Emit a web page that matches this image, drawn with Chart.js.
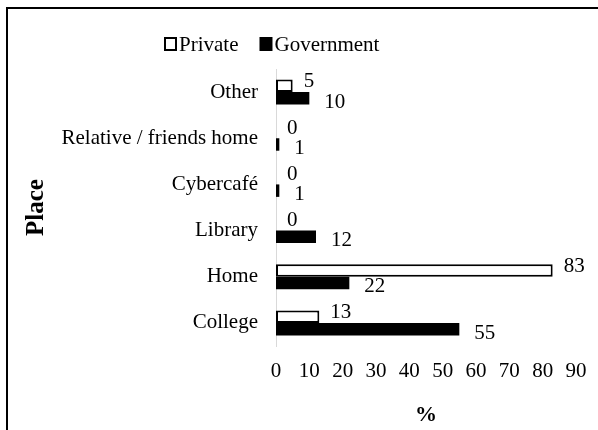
<!DOCTYPE html>
<html>
<head>
<meta charset="utf-8">
<script src="https://cdn.jsdelivr.net/npm/chart.js@4.4.1/dist/chart.umd.min.js"></script>
<style>
  html, body { margin: 0; padding: 0; background: #fff; }
  #wrap { width: 598px; height: 430px; position: relative; }
</style>
</head>
<body>
<div id="wrap"><canvas id="c" width="598" height="430"></canvas></div>
<script>
// Places where students use the Internet, % by type of institution
const places = ["Other", "Relative / friends home", "Cybercafé", "Library", "Home", "College"];
const privateValues = [5, 0, 0, 0, 83, 13];
const governmentValues = [10, 1, 1, 12, 22, 55];
const seriesNames = ["Private", "Government"];
const xTicks = [0, 10, 20, 30, 40, 50, 60, 70, 80, 90];

const FONT = "'Liberation Serif', 'Times New Roman', serif";

// Outer frame: only the top and left edges fall inside the canvas
const framePlugin = {
  id: 'frame',
  beforeDraw(chart) {
    const ctx = chart.ctx;
    ctx.save();
    ctx.strokeStyle = '#000';
    ctx.lineWidth = 2;
    ctx.beginPath();
    ctx.moveTo(7, 440);
    ctx.lineTo(7, 8);
    ctx.lineTo(610, 8);
    ctx.stroke();
    ctx.restore();
  }
};

// Legend row: hollow square for Private, filled square for Government
const legendPlugin = {
  id: 'boxLegend',
  afterDraw(chart) {
    const ctx = chart.ctx;
    ctx.save();
    ctx.font = '21px ' + FONT;
    ctx.textBaseline = 'middle';
    ctx.fillStyle = '#000';
    const y = 44;
    let x = 164;
    chart.data.datasets.forEach((ds, i) => {
      if (i === 0) {
        ctx.lineWidth = 2;
        ctx.strokeStyle = '#000';
        ctx.strokeRect(x + 1, y - 6, 11, 12);
      } else {
        ctx.fillRect(x, y - 7, 13, 14);
      }
      x += 15;
      ctx.fillText(ds.label, x, y + 1);
      x += ctx.measureText(ds.label).width + 21;
    });
    ctx.restore();
  }
};

// Value labels just past the end of each bar
const valueLabelPlugin = {
  id: 'valueLabels',
  afterDatasetsDraw(chart) {
    const ctx = chart.ctx;
    ctx.save();
    ctx.font = '21px ' + FONT;
    ctx.fillStyle = '#000';
    ctx.textAlign = 'left';
    ctx.textBaseline = 'middle';
    chart.data.datasets.forEach((ds, di) => {
      const meta = chart.getDatasetMeta(di);
      meta.data.forEach((bar, i) => {
        const dx = di === 0 ? 11 : 15;
        const dy = di === 0 ? -4 : 4;
        ctx.fillText(String(ds.data[i]), bar.x + dx, bar.y + dy);
      });
    });
    ctx.restore();
  }
};

new Chart(document.getElementById('c'), {
  type: 'bar',
  data: {
    labels: places,
    datasets: [
      {
        label: seriesNames[0],
        data: privateValues,
        backgroundColor: '#ffffff',
        borderColor: '#000000',
        borderWidth: 2,
        borderSkipped: false
      },
      {
        label: seriesNames[1],
        data: governmentValues,
        backgroundColor: '#000000',
        borderColor: '#000000',
        borderWidth: 0
      }
    ]
  },
  options: {
    indexAxis: 'y',
    responsive: false,
    animation: false,
    categoryPercentage: 0.54,
    barPercentage: 1.0,
    layout: { padding: { left: 21, right: 22, top: 69, bottom: 0 } },
    plugins: {
      legend: { display: false },
      tooltip: { enabled: false },
      title: { display: false }
    },
    scales: {
      x: {
        type: 'linear',
        min: 0,
        max: 90,
        afterBuildTicks(axis) { axis.ticks = xTicks.map(v => ({ value: v })); },
        grid: { display: false },
        border: { display: false },
        ticks: { color: '#000', font: { family: FONT, size: 21 }, padding: 5, maxRotation: 0, autoSkip: false },
        title: { display: true, text: '%', color: '#000', font: { family: FONT, size: 22, weight: 'bold' }, padding: { top: 24, bottom: 1 } },
        afterFit(axis) { axis.height = 84; }
      },
      y: {
        grid: { display: false, drawTicks: false },
        border: { display: true, color: '#d9d9d9', width: 1 },
        ticks: { color: '#000', font: { family: FONT, size: 21 }, padding: 18, autoSkip: false },
        title: { display: true, text: 'Place', color: '#000', font: { family: FONT, size: 25, weight: 'bold' }, padding: { top: 1, bottom: 4 } },
        afterFit(axis) { axis.width = 255; }
      }
    }
  },
  plugins: [framePlugin, legendPlugin, valueLabelPlugin]
});
</script>
</body>
</html>
